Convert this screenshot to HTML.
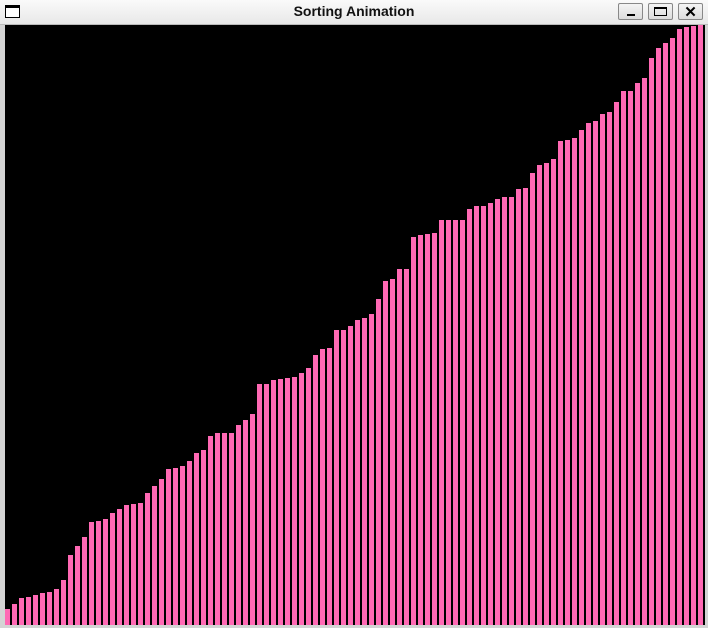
<!DOCTYPE html>
<html><head><meta charset="utf-8">
<style>
html,body{margin:0;padding:0;width:708px;height:628px;overflow:hidden;background:#d4d4d4;font-family:"Liberation Sans",sans-serif}
#titlebar{position:absolute;left:0;top:0;width:708px;height:24px;background:linear-gradient(#fafafa,#e8e8e8);border-bottom:1px solid #bbb}
#title{position:absolute;left:0;width:708px;top:3px;text-align:center;font-weight:bold;font-size:14px;color:#111}
.btn{position:absolute;top:3px;width:25px;height:17px;border:1px solid #888;border-radius:2px;background:linear-gradient(#f4f4f4,#dcdcdc);box-sizing:border-box}
#winicon{position:absolute;left:5px;top:5px;width:15px;height:13px;border:1px solid #000;box-sizing:border-box;border-top-width:3px;background:#fff}
#chart{position:absolute;left:5px;top:25px}
</style></head><body>
<div id="titlebar">
<div id="winicon"></div>
<div id="title">Sorting Animation</div>
<div class="btn" style="left:618px"><div style="position:absolute;left:8px;top:10px;width:8px;height:2px;background:#000"></div></div>
<div class="btn" style="left:648px"><div style="position:absolute;left:5px;top:3px;width:13px;height:9px;border:1px solid #000;border-top-width:2px;box-sizing:border-box"></div></div>
<div class="btn" style="left:678px"><div style="position:absolute;left:0;top:-1px;width:23px;text-align:center;font-size:15px;font-weight:bold">✕</div></div>
</div>
<svg id="chart" width="700" height="600">
<rect width="700" height="600" fill="#000"></rect>
<g id="bars"></g>
</svg>
<script>
const values=[16,21,27,28,30,32,33,36,45,70,79,88,103,104,106,112,116,120,121,122,132,139,146,156,157,159,164,172,175,189,192,192,192,200,205,211,241,241,245,246,247,248,252,257,270,276,277,295,295,299,305,307,311,326,344,346,356,356,388,390,391,392,405,405,405,405,416,419,419,422,426,428,428,436,437,452,460,462,466,484,485,487,495,502,504,511,513,523,534,534,542,547,567,577,582,587,596,598,599,600];
const maxValue=600;
const W=700,H=600,step=W/values.length,barW=step-2;
function yScale(v){return H-v/maxValue*H;}
const g=document.getElementById('bars');
values.forEach((v,i)=>{
const r=document.createElementNS('http://www.w3.org/2000/svg','rect');
r.setAttribute('x',i*step);
r.setAttribute('y',yScale(v));
r.setAttribute('width',barW);
r.setAttribute('height',H-yScale(v));
r.setAttribute('fill','#ff69b4');


g.appendChild(r);
});
</script>
</body></html>
